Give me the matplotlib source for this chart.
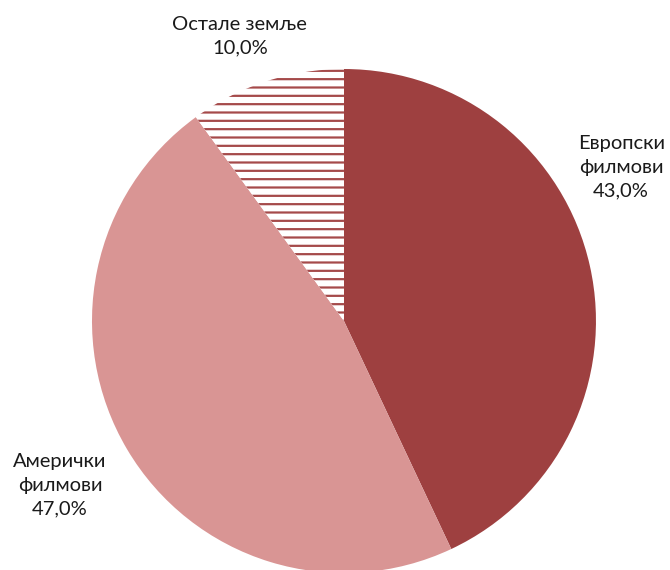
import matplotlib
matplotlib.use("Agg")
import matplotlib.pyplot as plt

categories = ["Европски\nфилмови", "Амерички\nфилмови", "Остале земље"]
values = [43.0, 47.0, 10.0]
colors = ["#9E4040", "#D99594", "#FFFFFF"]
label_pos = [(1.10, 0.61), (-1.127, -0.651), (-0.413, 1.13)]

plt.rcParams['font.family'] = ['Lato', 'DejaVu Sans']
plt.rcParams['hatch.linewidth'] = 1.6

fig = plt.figure(figsize=(6.7, 5.7), dpi=100)
ax = fig.add_axes([0.1373, -0.00526, 0.7522, 0.8842])
wedges, _ = ax.pie(values, colors=colors, startangle=90, counterclock=False,
                   radius=1.0, wedgeprops=dict(linewidth=0))
wedges[2].set_hatch('--')
wedges[2].set_edgecolor('#A54A4A')
wedges[2].set_linewidth(0)

for cat, v, (x, y) in zip(categories, values, label_pos):
    txt = f"{cat}\n{v:.1f}%".replace('.', ',')
    ax.text(x, y, txt, ha='center', va='center', fontsize=14.5,
            color='#1a1a1a', linespacing=1.5, clip_on=False)

ax.set_xlim(-1, 1)
ax.set_ylim(-1, 1)
ax.set_aspect('equal')
ax.axis('off')
fig.savefig("out.png", dpi=100)
